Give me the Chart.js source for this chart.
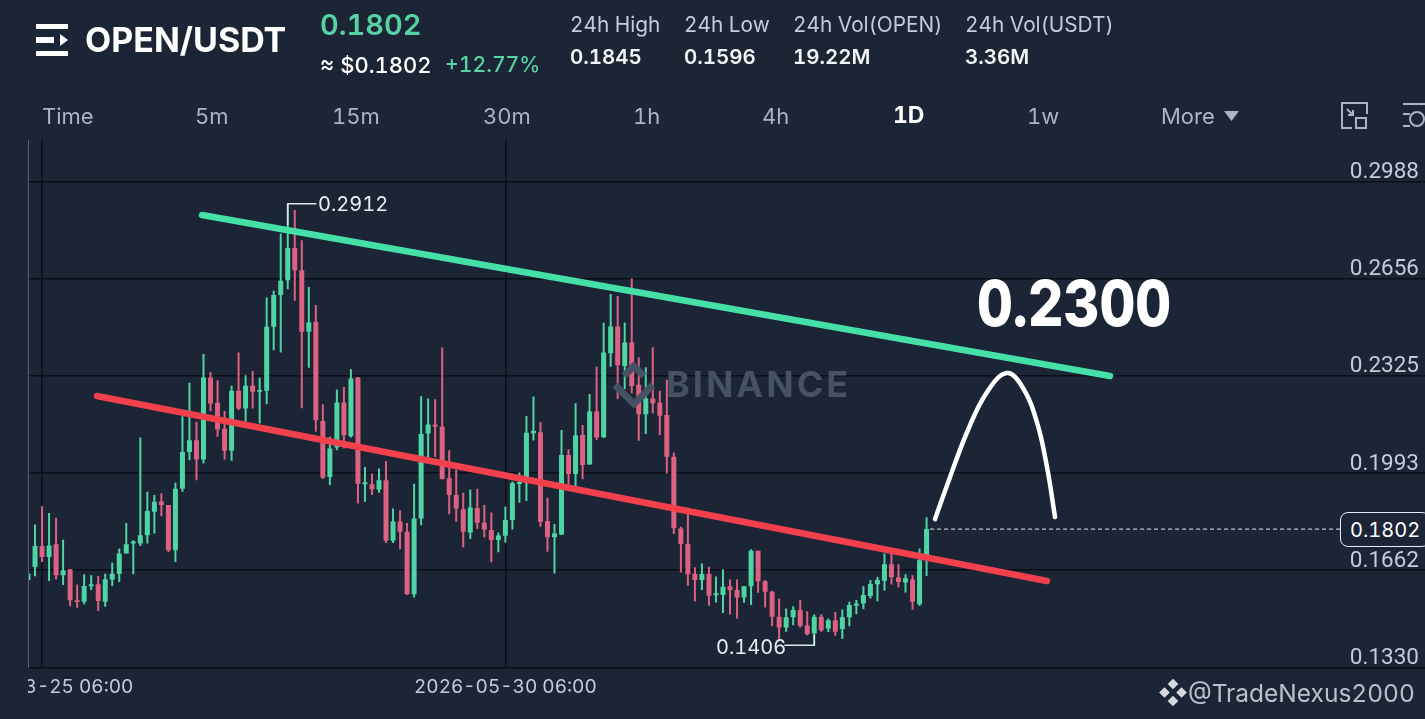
<!DOCTYPE html>
<html>
<head>
<meta charset="utf-8">
<title>OPEN/USDT</title>
<script src="https://cdn.jsdelivr.net/npm/chart.js@4"></script>
<style>
  html, body { margin: 0; padding: 0; background: #1b2536; overflow: hidden; }
  #page { position: relative; width: 1425px; height: 719px; font-family: Inter, Roboto, sans-serif; font-variant-numeric: tabular-nums; color: #fff; overflow: hidden; }
  canvas { position: absolute; left: 0; top: 0; }
  .t { position: absolute; white-space: nowrap; line-height: 1; transform: translateY(-50%); }
  .head { font-size: 20.8px; color: #c3ccda; }
  .val { font-size: 20.5px; font-weight: 600; color: #f2f4f7; }
  .tab { font-size: 22px; color: #a9b4c6; }
  .green { color: #57d3a3; }
  .note { font-size: 20px; color: #e9edf3; }
  .edge { position: absolute; left: 0; width: 28px; background: #1b2536; }
</style>
</head>
<body>
<div id="page">
  <canvas id="chart" width="1425" height="719"></canvas>

  <!-- left edge covers the clipped time label -->
  <div class="edge" style="top:140px;height:528px;border-right:1px solid #566274"></div>
  <div class="edge" style="top:668px;height:51px"></div>

  <svg style="position:absolute;left:36px;top:24px" width="33" height="33" viewBox="0 0 33 33">
    <rect x="0" y="0" width="32" height="5" fill="#fff"/>
    <rect x="0" y="13" width="18" height="6" fill="#fff"/>
    <rect x="0" y="27" width="32" height="5" fill="#fff"/>
    <path d="M24 10 L32 16 L24 22 Z" fill="#fff"/>
  </svg>
  <div class="t" style="left:85px;top:40px;font-size:34px;font-weight:700">OPEN/USDT</div>
  <div class="t green" style="left:320px;top:24px;font-size:29px;font-weight:600">0.1802</div>
  <div class="t" style="left:320px;top:65px;font-size:22px;font-weight:500">≈ $0.1802</div>
  <div class="t green" style="left:445px;top:65px;font-size:21.2px;font-weight:500">+12.77%</div>

  <div class="t head" style="left:570px;top:25px">24h High</div>
  <div class="t val" style="left:570px;top:57px">0.1845</div>
  <div class="t head" style="left:684px;top:25px">24h Low</div>
  <div class="t val" style="left:684px;top:57px">0.1596</div>
  <div class="t head" style="left:793px;top:25px">24h Vol(OPEN)</div>
  <div class="t val" style="left:793px;top:57px">19.22M</div>
  <div class="t head" style="left:965px;top:25px">24h Vol(USDT)</div>
  <div class="t val" style="left:965px;top:57px">3.36M</div>

  <div class="t tab" style="left:42px;top:116px">Time</div>
  <div class="t tab" style="left:195px;top:116px">5m</div>
  <div class="t tab" style="left:332px;top:116px">15m</div>
  <div class="t tab" style="left:483px;top:116px">30m</div>
  <div class="t tab" style="left:633px;top:116px">1h</div>
  <div class="t tab" style="left:762px;top:116px">4h</div>
  <div class="t tab" style="left:893px;top:115px;color:#fff;font-weight:700;font-size:23px">1D</div>
  <div class="t tab" style="left:1027px;top:116px">1w</div>
  <div class="t tab" style="left:1161px;top:116px">More</div>
  <svg style="position:absolute;left:1224px;top:111px" width="15" height="10"><path d="M0 0 H15 L7.5 10 Z" fill="#a9b4c6"/></svg>
  <svg style="position:absolute;left:1340px;top:102px" width="85" height="28" fill="none" stroke="#a9b4c6" stroke-width="2">
    <path d="M14 1 H27 V12 M27 1 M14 1 H2 V26 H12"/>
    <rect x="16" y="16" width="10" height="10"/>
    <path d="M7 7 L13 13 M13 8 V13 H8"/>
    <path d="M63 2 H85 M63 12 H70 M63 24 H70"/>
    <circle cx="77" cy="17" r="7"/>
  </svg>

  <div class="t note" style="left:318px;top:204px">0.2912</div>
  <div class="t note" style="left:716px;top:647px">0.1406</div>
  <div class="t" style="left:977px;top:303px;font-size:55.5px;font-weight:800;transform:translateY(-50%) scaleY(1.15)">0.2300</div>

  <svg style="position:absolute;left:610px;top:362px" width="48" height="46" viewBox="0 0 48 46" fill="none" stroke="#465164" stroke-width="7">
    <path d="M5 23 L24 42 L43 23 M14 14 L24 4 L34 14"/>
  </svg>
  <div class="t" style="left:666px;top:384px;font-size:36px;font-weight:700;letter-spacing:3px;color:#465164">BINANCE</div>

  <div style="position:absolute;left:1340px;top:512px;width:90px;height:35px;border:1px solid #e9edf3;border-radius:8px;box-sizing:border-box;background:#1b2536"></div>
  <div class="t" style="left:1350px;top:530px;font-size:20px;color:#fff">0.1802</div>

  <svg style="position:absolute;left:1157px;top:678px" width="32" height="29" viewBox="0 0 30 26" fill="#d5d9df">
    <path d="M15 0 L20 5 L15 10 L10 5 Z M7 8 L12 13 L7 18 L2 13 Z M23 8 L28 13 L23 18 L18 13 Z M15 16 L20 21 L15 26 L10 21 Z"/>
  </svg>
  <div class="t" style="left:1188px;top:693px;font-size:24.5px;color:#b9c0cb">@TradeNexus2000</div>
</div>

<script>
// daily candles, oldest first
const opens = [0.1628,0.1673,0.1744,0.1707,0.1750,0.1645,0.1665,0.1559,0.1554,0.1607,0.1614,0.1554,0.1630,0.1650,0.1719,0.1753,0.1753,0.1781,0.1861,0.1896,0.1884,0.1730,0.1940,0.2065,0.2105,0.2039,0.2319,0.2233,0.2144,0.2069,0.2274,0.2213,0.2291,0.2270,0.2274,0.2492,0.2600,0.2651,0.2761,0.2685,0.2475,0.2509,0.2171,0.1980,0.2080,0.2234,0.2119,0.2319,0.1955,0.1955,0.1937,0.1969,0.1762,0.1828,0.1793,0.1580,0.1838,0.2128,0.2159,0.2151,0.1975,0.1918,0.1870,0.1790,0.1874,0.1824,0.1799,0.1765,0.1779,0.1833,0.1956,0.1960,0.2129,0.2132,0.1830,0.1774,0.1784,0.2055,0.1990,0.2123,0.2022,0.2203,0.2115,0.2402,0.2493,0.2358,0.2438,0.2294,0.2194,0.2247,0.2233,0.2191,0.2049,0.1804,0.1751,0.1649,0.1628,0.1649,0.1576,0.1577,0.1607,0.1594,0.1569,0.1607,0.1728,0.1624,0.1588,0.1503,0.1466,0.1501,0.1526,0.1473,0.1446,0.1503,0.1463,0.1491,0.1461,0.1501,0.1541,0.1548,0.1574,0.1614,0.1626,0.1682,0.1637,0.1620,0.1630,0.1546,0.1696];
const closes = [0.1650,0.1744,0.1707,0.1746,0.1645,0.1662,0.1559,0.1553,0.1608,0.1614,0.1557,0.1631,0.1650,0.1719,0.1750,0.1760,0.1781,0.1864,0.1895,0.1884,0.1730,0.1940,0.2065,0.2105,0.2039,0.2319,0.2230,0.2142,0.2069,0.2274,0.2213,0.2291,0.2270,0.2276,0.2492,0.2600,0.2649,0.2761,0.2685,0.2475,0.2507,0.2173,0.1978,0.2077,0.2234,0.2122,0.2316,0.1957,0.1962,0.1938,0.1969,0.1762,0.1828,0.1793,0.1580,0.1838,0.2126,0.2159,0.2151,0.1973,0.1918,0.1872,0.1793,0.1876,0.1824,0.1801,0.1765,0.1780,0.1833,0.1958,0.1963,0.2131,0.2137,0.1827,0.1774,0.1788,0.2055,0.1990,0.2121,0.2021,0.2203,0.2114,0.2404,0.2493,0.2361,0.2438,0.2290,0.2194,0.2247,0.2231,0.2189,0.2049,0.1805,0.1751,0.1648,0.1628,0.1649,0.1575,0.1583,0.1605,0.1594,0.1569,0.1607,0.1728,0.1624,0.1588,0.1503,0.1466,0.1501,0.1526,0.1472,0.1443,0.1503,0.1457,0.1491,0.1452,0.1501,0.1543,0.1548,0.1577,0.1615,0.1628,0.1682,0.1639,0.1622,0.1634,0.1554,0.1696,0.1802];
const highs = [0.1673,0.1818,0.1880,0.1857,0.1841,0.1766,0.1665,0.1613,0.1648,0.1645,0.1642,0.1650,0.1687,0.1736,0.1823,0.1764,0.2114,0.1929,0.1918,0.1923,0.1884,0.1960,0.2187,0.2301,0.2168,0.2399,0.2338,0.2310,0.2205,0.2291,0.2404,0.2327,0.2341,0.2318,0.2592,0.2615,0.2810,0.2912,0.2890,0.2787,0.2628,0.2566,0.2228,0.2117,0.2278,0.2287,0.2347,0.2321,0.2014,0.1992,0.2009,0.2034,0.1872,0.1866,0.1823,0.1957,0.2255,0.2247,0.2245,0.2421,0.2071,0.2005,0.1926,0.1937,0.1940,0.1884,0.1859,0.1790,0.1879,0.1964,0.1995,0.2188,0.2254,0.2166,0.1909,0.1819,0.2140,0.2074,0.2231,0.2157,0.2263,0.2356,0.2506,0.2604,0.2597,0.2507,0.2657,0.2388,0.2354,0.2422,0.2274,0.2311,0.2063,0.1810,0.1876,0.1672,0.1685,0.1674,0.1640,0.1665,0.1630,0.1630,0.1607,0.1733,0.1728,0.1628,0.1592,0.1565,0.1531,0.1539,0.1560,0.1522,0.1511,0.1512,0.1497,0.1519,0.1528,0.1554,0.1560,0.1607,0.1628,0.1639,0.1719,0.1717,0.1682,0.1648,0.1645,0.1736,0.1842];
const lows = [0.1594,0.1641,0.1690,0.1625,0.1630,0.1611,0.1539,0.1534,0.1546,0.1594,0.1523,0.1537,0.1608,0.1622,0.1719,0.1648,0.1744,0.1753,0.1787,0.1846,0.1724,0.1690,0.1929,0.2037,0.1969,0.2026,0.2204,0.2117,0.2039,0.2035,0.2208,0.2168,0.2213,0.2162,0.2228,0.2412,0.2404,0.2620,0.2581,0.2214,0.2352,0.2134,0.1973,0.1952,0.2071,0.2077,0.2114,0.1889,0.1895,0.1918,0.1926,0.1755,0.1755,0.1733,0.1577,0.1569,0.1815,0.2048,0.2048,0.1971,0.1853,0.1827,0.1739,0.1768,0.1802,0.1773,0.1689,0.1723,0.1756,0.1801,0.1892,0.1898,0.2104,0.1810,0.1725,0.1651,0.1782,0.1953,0.1947,0.1972,0.2022,0.2106,0.2113,0.2356,0.2246,0.2280,0.2265,0.2103,0.2126,0.2197,0.2123,0.1992,0.1785,0.1654,0.1609,0.1555,0.1594,0.1541,0.1552,0.1516,0.1511,0.1497,0.1551,0.1543,0.1585,0.1535,0.1471,0.1426,0.1452,0.1474,0.1466,0.1440,0.1406,0.1452,0.1451,0.1438,0.1427,0.1471,0.1512,0.1529,0.1565,0.1556,0.1592,0.1613,0.1603,0.1586,0.1528,0.1540,0.1642];

// price axis and time axis
const priceTicks = [0.1330, 0.1662, 0.1993, 0.2325, 0.2656, 0.2988];
const timeTicks = [2, 68];
const timeLabels = ['2026-03-25 06:00', '2026-05-30 06:00'];

// drawn lines, x is the candle index
const greenLineX = [24.79, 154.13];
const greenLineY = [0.2873, 0.2324];
const redLineX = [9.83, 145.15];
const redLineY = [0.2256, 0.1625];
const arcX = [129.2, 131.35, 133.9, 136.6, 139.45, 141.75, 143.75, 145.15, 146.3];
const arcY = [0.1836, 0.1980, 0.2140, 0.2269, 0.2334, 0.2283, 0.2164, 0.2014, 0.1843];
const lastPriceX = [128.5, 186.9];
const lastPriceY = [0.1802, 0.1802];
const highLeaderX = [37, 37, 41];
const highLeaderY = [0.2840, 0.2912, 0.2912];
const lowLeaderX = [107.8, 112, 112];
const lowLeaderY = [0.1406, 0.1406, 0.1440];

const UP = '#4fd5a3';
const DOWN = '#dd6180';
const GRID = '#0b0f17';
const TICK = '#c3ccda';

const points = (xs, ys) => xs.map((x, i) => ({ x, y: ys[i] }));
const candleColor = opens.map((o, i) => (closes[i] >= o ? UP : DOWN));

function lineSet(xs, ys, color, width, extra) {
    return Object.assign({
        type: 'line',
        data: points(xs, ys),
        borderColor: color,
        borderWidth: width,
        borderCapStyle: 'round',
        pointRadius: 0,
        tension: 0,
        order: 0
    }, extra);
}

new Chart(document.getElementById('chart'), {
    type: 'bar',
    data: {
        datasets: [
            // candle bodies and wicks are two floating bar sets
            {
                data: opens.map((o, i) => ({ x: i, y: [o, closes[i]] })),
                backgroundColor: candleColor,
                grouped: false,
                maxBarThickness: 5,
                order: 1
            },
            {
                data: lows.map((l, i) => ({ x: i, y: [l, highs[i]] })),
                backgroundColor: candleColor,
                grouped: false,
                maxBarThickness: 2,
                order: 2
            },
            lineSet(greenLineX, greenLineY, '#45e0a8', 6.5),
            lineSet(redLineX, redLineY, '#f2404c', 6.5),
            lineSet(arcX, arcY, '#ffffff', 4.5, { tension: 0.4 }),
            lineSet(lastPriceX, lastPriceY, '#e9edf3', 1, { borderDash: [4, 3], borderCapStyle: 'butt' }),
            lineSet(highLeaderX, highLeaderY, '#dfe4ea', 1.5),
            lineSet(lowLeaderX, lowLeaderY, '#dfe4ea', 1.5)
        ]
    },
    options: {
        responsive: false,
        animation: false,
        layout: { padding: { left: 28, right: 0, top: 140, bottom: 0 } },
        plugins: { legend: { display: false }, tooltip: { enabled: false } },
        scales: {
            x: {
                type: 'linear',
                min: 0,
                max: 199,
                offset: false,
                border: { display: false },
                grid: { color: GRID, lineWidth: 1.5, drawTicks: false, offset: false },
                ticks: {
                    color: TICK,
                    font: { family: 'Inter, Roboto, sans-serif', size: 19 },
                    padding: 8,
                    maxRotation: 0,
                    autoSkip: false,
                    callback: (v) => timeLabels[timeTicks.indexOf(v)]
                },
                afterBuildTicks: (s) => { s.ticks = timeTicks.map((value) => ({ value })); },
                afterFit: (s) => { s.height = 51.5; s.paddingLeft = 0; s.paddingRight = 0; }
            },
            y: {
                position: 'right',
                min: 0.1330,
                max: 0.3129,
                border: { display: false },
                grid: { color: GRID, lineWidth: 1.5, drawTicks: false },
                ticks: {
                    color: TICK,
                    // Roboto digits are all one width, so the labels line up
                    font: { family: 'Roboto, sans-serif', size: 22.5 },
                    mirror: true,
                    padding: -6,
                    labelOffset: -9,
                    callback: (v) => v.toFixed(4)
                },
                afterBuildTicks: (s) => { s.ticks = priceTicks.map((value) => ({ value })); },
                afterFit: (s) => { s.width = 0; s.paddingTop = 0; s.paddingBottom = 0; }
            }
        }
    }
});
</script>
</body>
</html>
